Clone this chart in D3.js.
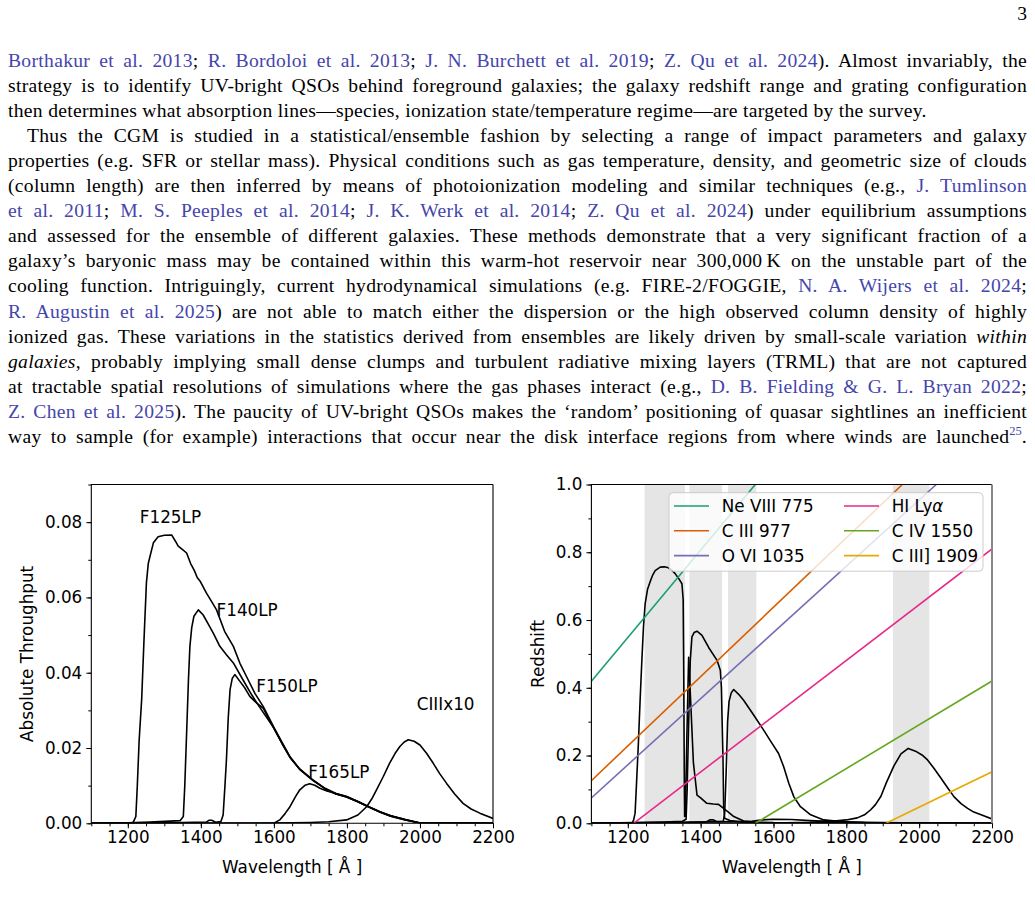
<!DOCTYPE html>
<html>
<head>
<meta charset="utf-8">
<script src="https://cdn.jsdelivr.net/npm/d3@7"></script>
<style>
body { margin: 0; background: #fff; width: 1035px; height: 910px; overflow: hidden; position: relative; }
.ln { position: absolute; left: 8px; width: 1019px; height: 25px; line-height: 25px;
  font-family: "Liberation Serif", serif; font-size: 19.6px; letter-spacing: 0.3px; color: #000;
  text-align: justify; text-align-last: justify; }
.ln.last { text-align-last: left; }
.c { color: #4545ab; }
.i { font-style: italic; }
sup { font-size: 12.5px; line-height: 0; vertical-align: 8px; letter-spacing: 0; }
svg { position: absolute; left: 0; top: 0; }
</style>
</head>
<body>
<script>
// ---- page text (one entry per printed line) ----
const textLines = [
  [['c','Borthakur et al. 2013'],['n','; '],['c','R. Bordoloi et al. 2013'],['n','; '],['c','J. N. Burchett et al. 2019'],['n','; '],['c','Z. Qu et al. 2024'],['n','). Almost invariably, the']],
  [['n','strategy is to identify UV-bright QSOs behind foreground galaxies; the galaxy redshift range and grating configuration']],
  [['n','then determines what absorption lines\u2014species, ionization state/temperature regime\u2014are targeted by the survey.']],
  [['n','Thus the CGM is studied in a statistical/ensemble fashion by selecting a range of impact parameters and galaxy']],
  [['n','properties (e.g. SFR or stellar mass). Physical conditions such as gas temperature, density, and geometric size of clouds']],
  [['n','(column length) are then inferred by means of photoionization modeling and similar techniques (e.g., '],['c','J. Tumlinson']],
  [['c','et al. 2011'],['n','; '],['c','M. S. Peeples et al. 2014'],['n','; '],['c','J. K. Werk et al. 2014'],['n','; '],['c','Z. Qu et al. 2024'],['n',') under equilibrium assumptions']],
  [['n','and assessed for the ensemble of different galaxies. These methods demonstrate that a very significant fraction of a']],
  [['n','galaxy\u2019s baryonic mass may be contained within this warm-hot reservoir near 300,000\u2009K on the unstable part of the']],
  [['n','cooling function. Intriguingly, current hydrodynamical simulations (e.g. FIRE-2/FOGGIE, '],['c','N. A. Wijers et al. 2024'],['n',';']],
  [['c','R. Augustin et al. 2025'],['n',') are not able to match either the dispersion or the high observed column density of highly']],
  [['n','ionized gas. These variations in the statistics derived from ensembles are likely driven by small-scale variation '],['i','within']],
  [['i','galaxies'],['n',', probably implying small dense clumps and turbulent radiative mixing layers (TRML) that are not captured']],
  [['n','at tractable spatial resolutions of simulations where the gas phases interact (e.g., '],['c','D. B. Fielding & G. L. Bryan 2022'],['n',';']],
  [['c','Z. Chen et al. 2025'],['n','). The paucity of UV-bright QSOs makes the \u2018random\u2019 positioning of quasar sightlines an inefficient']],
  [['n','way to sample (for example) interactions that occur near the disk interface regions from where winds are launched'],['s','25'],['n','.']]
]
const lastLines = [2]
const indentLines = [3]

// ---- left panel: filter throughputs [wavelength (A), throughput] ----
const f125lp = [[1100,0],[1210,0],[1215,0.0003],[1222,0.0018],[1226,0.01],[1231,0.022],[1238,0.033],[1244,0.048],[1251,0.064],[1256,0.069],[1261,0.071],[1270,0.0745],[1283,0.0761],[1300,0.0765],[1320,0.0766],[1330,0.075],[1338,0.0736],[1350,0.0727],[1361,0.0718],[1372,0.069],[1382,0.0672],[1390,0.0653],[1398,0.0643],[1415,0.0612],[1430,0.0588],[1443,0.0567],[1465,0.051],[1489,0.047],[1507,0.0425],[1525,0.039],[1548,0.0345],[1571,0.031],[1600,0.0255],[1625,0.021],[1644,0.0177],[1670,0.0145],[1707,0.0115],[1740,0.0093],[1770,0.0079],[1799,0.0071],[1830,0.0058],[1860,0.0044],[1890,0.0031],[1920,0.002],[1960,0.001],[2000,0.0001],[2200,0]]
const f140lp = [[1100,0],[1200,0.0001],[1260,0.0003],[1343,0.0007],[1352,0.0018],[1356,0.01],[1361,0.024],[1366,0.038],[1370,0.047],[1375,0.052],[1381,0.055],[1393,0.0567],[1406,0.0554],[1420,0.053],[1434,0.0505],[1452,0.047],[1470,0.0448],[1489,0.0426],[1516,0.038],[1540,0.034],[1560,0.031],[1600,0.0253],[1625,0.0208],[1644,0.0176],[1670,0.0144],[1707,0.0114],[1740,0.0092],[1770,0.0078],[1799,0.007],[1830,0.0057],[1860,0.0043],[1890,0.003],[1920,0.0019],[1960,0.0009],[2000,0.0001],[2200,0]]
const f150lp = [[1100,0],[1350,0.0002],[1415,0.0003],[1422,0.0008],[1430,0.0008],[1440,0.0003],[1455,0.0005],[1461,0.0022],[1466,0.01],[1470,0.0168],[1475,0.028],[1480,0.0355],[1486,0.0385],[1493,0.0395],[1507,0.0377],[1520,0.036],[1534,0.0337],[1550,0.0322],[1571,0.0305],[1600,0.0252],[1625,0.0207],[1644,0.0175],[1670,0.0144],[1707,0.0114],[1740,0.0092],[1770,0.0078],[1799,0.007],[1830,0.0057],[1860,0.0043],[1890,0.003],[1920,0.0019],[1960,0.0009],[2000,0.0001],[2200,0]]
const f165lp = [[1100,0],[1600,0],[1616,0.0009],[1630,0.0025],[1644,0.0044],[1660,0.0072],[1671,0.0089],[1685,0.0101],[1698,0.0105],[1712,0.0101],[1726,0.0093],[1745,0.0086],[1770,0.0079],[1799,0.0071],[1830,0.0058],[1860,0.0044],[1890,0.0031],[1920,0.002],[1960,0.001],[2000,0.0001],[2200,0]]
const ciii10 = [[1100,0],[1650,0.0001],[1700,0.0002],[1750,0.0004],[1799,0.0009],[1830,0.0022],[1854,0.0044],[1870,0.0068],[1881,0.0089],[1900,0.0125],[1917,0.016],[1932,0.0186],[1945,0.0204],[1957,0.0216],[1968,0.0222],[1984,0.0218],[2000,0.0208],[2018,0.0186],[2036,0.016],[2054,0.0132],[2073,0.0106],[2095,0.0078],[2118,0.0053],[2140,0.0038],[2164,0.0027],[2200,0.0013]]
const leftNames = ['F125LP','F140LP','F150LP','F165LP','CIIIx10']

// ---- right panel: filter windows (z units) ----
const win1 = [[1100,0],[1212,0],[1216,0.01],[1220,0.03],[1224,0.12],[1229,0.236],[1234,0.37],[1238.5,0.48],[1243,0.58],[1247.6,0.648],[1254,0.69],[1261,0.712],[1268,0.732],[1275,0.746],[1289,0.756],[1300,0.757],[1311.7,0.754],[1320,0.748],[1330,0.737],[1340,0.722],[1348.6,0.707],[1352,0.66],[1353.5,0.45],[1355,0.15],[1356,0.02],[1358,0.02],[1362,0.25],[1367,0.49],[1373,0.35],[1380,0.18],[1390,0.083],[1400,0.075],[1417,0.059],[1435,0.057],[1449,0.056],[1463,0.044],[1477,0.032],[1491,0.02],[1518,0.007],[1550,0.004],[1600,0.002],[2200,0]]
const win2 = [[1100,0],[1215,0.002],[1300,0.004],[1350,0.006],[1360,0.012],[1363,0.1],[1366.8,0.285],[1371.5,0.481],[1376,0.55],[1382,0.563],[1390,0.567],[1403.7,0.555],[1422,0.519],[1445,0.481],[1454,0.452],[1457,0.40],[1459,0.3],[1461.4,0.187],[1463,0.05],[1466,0.015],[1480,0.008],[1520,0.003],[1600,0.001],[2200,0]]
const win3 = [[1100,0],[1360,0.002],[1415,0.004],[1425,0.01],[1435,0.01],[1445,0.005],[1462,0.006],[1466,0.03],[1470,0.15],[1474,0.3],[1478,0.36],[1484,0.385],[1490.7,0.395],[1505,0.38],[1518,0.363],[1546,0.319],[1573,0.275],[1596,0.236],[1614,0.206],[1628,0.167],[1642,0.118],[1656,0.078],[1674,0.049],[1702,0.025],[1738,0.01],[1784,0.005],[1850,0.002],[2200,0]]
const win4 = [[1100,0],[1540,0.006],[1570,0.01],[1600,0.012],[1650,0.011],[1700,0.008],[1750,0.006],[1800,0.004],[1900,0.002],[2000,0.001],[2200,0]]
const win5 = [[1100,0],[1600,0.001],[1700,0.003],[1766,0.007],[1800,0.01],[1830,0.016],[1850,0.025],[1867,0.04],[1880,0.055],[1895,0.08],[1910,0.12],[1931,0.17],[1950,0.205],[1970,0.221],[1990,0.213],[2010,0.2],[2023,0.187],[2040,0.163],[2060,0.133],[2078,0.105],[2096,0.078],[2115,0.058],[2133,0.044],[2150,0.033],[2170,0.025],[2200,0.013]]
const bands = [[1246,1357],[1369,1459],[1475,1553],[1928,2028]]

// absorption lines: name, and two [wavelength, redshift] end points
const lineNames = ['Ne VIII 775','C III 977','O VI 1035','HI Ly\u03b1','C IV 1550','C III] 1909']
const lineEnds = [
  [[1100,0.419],[1550,1.0]],
  [[1100,0.126],[1954,1.0]],
  [[1100,0.075],[2047,1.0]],
  [[1216,0],[2200,0.81]],
  [[1550,0],[2200,0.42]],
  [[1909,0],[2200,0.152]]
]

const xTicks = [1200,1400,1600,1800,2000,2200]
const leftYTicks = [0,0.02,0.04,0.06,0.08]
const rightYTicks = [0,0.2,0.4,0.6,0.8,1.0]

// ---------- text ----------
d3.select('body').selectAll('div.ln')
  .data(textLines)
  .join('div')
  .attr('class', (d,i) => lastLines.includes(i) ? 'ln last' : 'ln')
  .style('top', (d,i) => (60 + i*25.1 - 12.5) + 'px')
  .style('text-indent', (d,i) => indentLines.includes(i) ? '19px' : '0px')
  .each(function(d) {
    let el = d3.select(this)
    d.forEach(s => {
      if (s[0] == 's') el.append('sup').attr('class','c').text(s[1])
      else el.append('span').attr('class', s[0]).text(s[1])
    })
  })

const svg = d3.select('body').append('svg')
  .attr('width', 1035).attr('height', 910)

svg.append('text')
  .attr('x', 1027).attr('y', 20)
  .attr('text-anchor', 'end')
  .style('font-family', '"Liberation Serif", serif')
  .style('font-size', '19.6px')
  .text('3')

const font = '"DejaVu Sans", sans-serif'

function frame(g, x, y, yTicks, yMinor, yFmt, ylab, ylabX) {
  let [x0, x1] = x.range(), [y0, y1] = y.range()

  g.append('g')
  .attr('transform', `translate(0,${y0})`)
  .call(d3.axisBottom(x).tickValues(d3.range(1100, 2201, 50)).tickSize(3).tickFormat('').tickSizeOuter(0))

  g.append('g')
  .attr('transform', `translate(0,${y0})`)
  .call(d3.axisBottom(x).tickValues(xTicks).tickSize(5).tickPadding(3).tickFormat(d3.format('d')).tickSizeOuter(0))

  g.append('g')
  .attr('transform', `translate(${x0},0)`)
  .call(d3.axisLeft(y).tickValues(yMinor).tickSize(3).tickFormat('').tickSizeOuter(0))

  g.append('g')
  .attr('transform', `translate(${x0},0)`)
  .call(d3.axisLeft(y).tickValues(yTicks).tickSize(5).tickPadding(4).tickFormat(d3.format(yFmt)).tickSizeOuter(0))

  g.selectAll('.domain').remove()
  g.selectAll('.tick line').attr('stroke', '#000')
  g.selectAll('.tick text').style('font-family', font).style('font-size', '16.8px').attr('fill', '#000')

  g.append('text')
  .attr('x', (x0 + x1)/2).attr('y', 873)
  .attr('text-anchor', 'middle')
  .style('font-family', font).style('font-size', '16.8px')
  .text('Wavelength [ \u00c5 ]')

  g.append('text')
  .attr('transform', `translate(${ylabX},${(y0 + y1)/2}) rotate(-90)`)
  .attr('text-anchor', 'middle')
  .style('font-family', font).style('font-size', '16.8px')
  .text(ylab)
}

function spines(g, x, y, rightColor) {
  let [x0, x1] = x.range(), [y0, y1] = y.range()
  g.append('path')
  .attr('d', `M${x1},${y1} L${x0},${y1} L${x0},${y0} L${x1},${y0}`)
  .attr('fill', 'none').attr('stroke', '#000').attr('stroke-width', 1.1)
  g.append('line')
  .attr('x1', x1).attr('x2', x1).attr('y1', y1).attr('y2', y0)
  .attr('stroke', rightColor).attr('stroke-width', rightColor == '#000' ? 1.1 : 2)
}

// ---------- left panel ----------
const xL = d3.scaleLinear().domain([1100, 2200]).range([91.3, 493])
const yL = d3.scaleLinear().domain([0, 0.09]).range([823.3, 484.5])
const gL = svg.append('g')

svg.append('clipPath').attr('id', 'clipL')
  .append('rect').attr('x', 91.3).attr('y', 484.5).attr('width', 493 - 91.3).attr('height', 823.3 - 484.5)

let lineL = d3.line().x(d => xL(d[0])).y(d => yL(d[1]))

gL.append('g').attr('clip-path', 'url(#clipL)')
  .selectAll('path')
  .data([f125lp, f140lp, f150lp, f165lp, ciii10])
  .join('path')
  .attr('d', lineL)
  .attr('fill', 'none')
  .attr('stroke', '#000')
  .attr('stroke-width', 1.6)
  .attr('stroke-linejoin', 'round')

const leftLabelAt = [[1233, 0.0799], [1443, 0.055], [1552, 0.035], [1694, 0.012], [1991, 0.03]]
gL.selectAll('text.lab')
  .data(leftNames)
  .join('text')
  .attr('class', 'lab')
  .attr('x', (d,i) => xL(leftLabelAt[i][0]))
  .attr('y', (d,i) => yL(leftLabelAt[i][1]))
  .style('font-family', font).style('font-size', '16.8px')
  .text(d => d)

frame(gL, xL, yL, leftYTicks, d3.range(0, 0.0901, 0.01), '.2f', 'Absolute Throughput', 33)
spines(gL, xL, yL, '#000')

// ---------- right panel ----------
const xR = d3.scaleLinear().domain([1100, 2200]).range([591.4, 992])
const yR = d3.scaleLinear().domain([0, 1]).range([823.3, 484.5])
const gR = svg.append('g')

svg.append('clipPath').attr('id', 'clipR')
  .append('rect').attr('x', 591.4).attr('y', 484.5).attr('width', 992 - 591.4).attr('height', 823.3 - 484.5)

const plotR = gR.append('g').attr('clip-path', 'url(#clipR)')

plotR.selectAll('rect.band')
  .data(bands)
  .join('rect')
  .attr('class', 'band')
  .attr('x', d => xR(d[0]))
  .attr('width', d => xR(d[1]) - xR(d[0]))
  .attr('y', yR(1)).attr('height', yR(0) - yR(1))
  .attr('fill', '#e5e5e5')

let lineR = d3.line().x(d => xR(d[0])).y(d => yR(d[1]))

plotR.selectAll('path.win')
  .data([win1, win2, win3, win4, win5])
  .join('path')
  .attr('class', 'win')
  .attr('d', lineR)
  .attr('fill', 'none')
  .attr('stroke', '#000')
  .attr('stroke-width', 1.6)
  .attr('stroke-linejoin', 'round')

const color = d3.scaleOrdinal().domain(lineNames).range(d3.schemeDark2)

plotR.selectAll('path.zline')
  .data(lineEnds)
  .join('path')
  .attr('class', 'zline')
  .attr('d', lineR)
  .attr('stroke', (d,i) => color(lineNames[i]))
  .attr('stroke-width', 1.6)
  .attr('fill', 'none')

// legend
const leg = gR.append('g')
leg.append('rect')
  .attr('x', 669).attr('y', 492.7).attr('width', 314).attr('height', 78.5)
  .attr('rx', 4)
  .attr('fill', '#fff').attr('fill-opacity', 0.8)
  .attr('stroke', '#cccccc').attr('stroke-width', 1)

const legItems = leg.selectAll('g.item')
  .data(lineNames)
  .join('g')
  .attr('class', 'item')
  .attr('transform', (d,i) => `translate(${i < 3 ? 674 : 844},${506 + (i % 3)*24.8})`)

legItems.append('line')
  .attr('x1', 0).attr('x2', 35)
  .attr('stroke', d => color(d)).attr('stroke-width', 1.6)

legItems.append('text')
  .attr('x', 47.7).attr('y', 6)
  .style('font-family', font).style('font-size', '16.8px')
  .each(function(d) {
    let t = d3.select(this)
    if (d.endsWith('\u03b1')) {
      t.append('tspan').text(d.slice(0, -1))
      t.append('tspan').style('font-style', 'italic').text('\u03b1')
    } else t.text(d)
  })

frame(gR, xR, yR, rightYTicks, d3.range(0, 1.001, 0.1), '.1f', 'Redshift', 544)
spines(gR, xR, yR, '#888')
</script>
</body>
</html>
